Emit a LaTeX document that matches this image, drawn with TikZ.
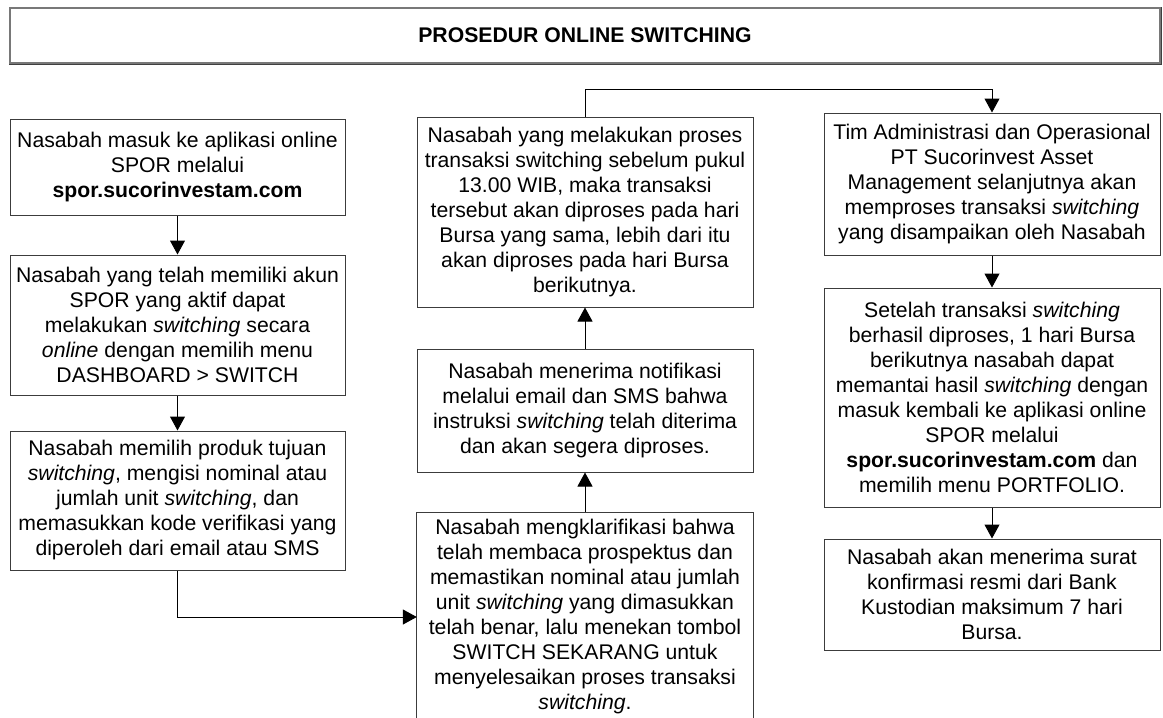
\documentclass[tikz,border=0pt]{standalone}
\usepackage{fontspec}
\setmainfont{Liberation Sans}
\usetikzlibrary{arrows.meta,calc}
\definecolor{boxgray}{RGB}{60,60,60}
\definecolor{titlegray}{RGB}{120,120,120}
\begin{document}
\begin{tikzpicture}[x=1pt,y=-1pt,
  txt/.style={align=center, font=\fontsize{21.2}{25}\selectfont, inner xsep=1pt, inner ysep=2pt},
  box/.style={txt, draw=boxgray, line width=1pt, fill=white, minimum width=336pt},
  boxline/.style={draw=boxgray, line width=1pt},
  conn/.style={draw=black, line width=1pt, -{Triangle[length=14pt,width=15pt]}},
]
\useasboundingbox (0,0) rectangle (1163,718);
\fill[white] (0,0) rectangle (1163,718);

\node[txt, draw=titlegray, line width=1.3pt, minimum width=1150pt, minimum height=55pt, font=\fontsize{21.2}{25}\selectfont\bfseries] (title) at (585,35.5) {PROSEDUR ONLINE SWITCHING};
\draw[black!75, line width=1pt] ([xshift=1pt]title.north east) -- ([xshift=1pt,yshift=-1pt]title.south east) -- ([yshift=-1pt]title.south west);

% left column
\node[box, minimum width=335pt, minimum height=96pt] (b1) at (177.5,167)
  {Nasabah masuk ke aplikasi online\\ SPOR melalui\\ \textbf{spor.sucorinvestam.com}};
\node[box, minimum width=335pt, minimum height=140pt] (b2) at (177.5,325)
  {Nasabah yang telah memiliki akun\\ SPOR yang aktif dapat\\ melakukan \textit{switching} secara\\ \textit{online} dengan memilih menu\\ DASHBOARD > SWITCH};
\node[box, minimum width=335pt, minimum height=139pt] (b3) at (177.5,500.5)
  {Nasabah memilih produk tujuan\\ \textit{switching}, mengisi nominal atau\\ jumlah unit \textit{switching}, dan\\ memasukkan kode verifikasi yang\\ diperoleh dari email atau SMS};

% middle column
\node[box, minimum height=190pt] (b4) at (585,212)
  {Nasabah yang melakukan proses\\ transaksi switching sebelum pukul\\ 13.00 WIB, maka transaksi\\ tersebut akan diproses pada hari\\ Bursa yang sama, lebih dari itu\\ akan diproses pada hari Bursa\\ berikutnya.};
\node[box, minimum height=123pt] (b5) at (585,410.5)
  {Nasabah menerima notifikasi\\ melalui email dan SMS bahwa\\ instruksi \textit{switching} telah diterima\\ dan akan segera diproses.};
\node[txt, minimum width=336pt, inner ysep=7pt, anchor=north] (b6) at (585,512)
  {Nasabah mengklarifikasi bahwa\\ telah membaca prospektus dan\\ memastikan nominal atau jumlah\\ unit \textit{switching} yang dimasukkan\\ telah benar, lalu menekan tombol\\ SWITCH SEKARANG untuk\\ menyelesaikan proses transaksi\\ \textit{switching}.};
\coordinate (pagebottom) at (0,718);
\draw[boxline] (b6.north west |- pagebottom) -- (b6.north west) -- (b6.north east) -- (b6.north east |- pagebottom);

% right column
\node[box, minimum height=142pt] (b7) at (992,184)
  {Tim Administrasi dan Operasional\\ PT Sucorinvest Asset\\ Management selanjutnya akan\\ memproses transaksi \textit{switching}\\ yang disampaikan oleh Nasabah};
\node[box, minimum height=219pt] (b8) at (992,397.5)
  {Setelah transaksi \textit{switching}\\ berhasil diproses, 1 hari Bursa\\ berikutnya nasabah dapat\\ memantai hasil \textit{switching} dengan\\ masuk kembali ke aplikasi online\\ SPOR melalui\\ \textbf{spor.sucorinvestam.com} dan\\ memilih menu PORTFOLIO.};
\node[box, minimum height=111pt] (b9) at (992,594.5)
  {Nasabah akan menerima surat\\ konfirmasi resmi dari Bank\\ Kustodian maksimum 7 hari\\ Bursa.};

% connectors
\coordinate (y617) at (0,617);
\coordinate (y89) at (0,89);
\draw[conn] (b1.south) -- (b2.north);
\draw[conn] (b2.south) -- (b3.north);
\draw[conn] (b3.south) |- (b6.west |- y617);
\draw[conn] (b6.north) -- (b5.south);
\draw[conn] (b5.north) -- (b4.south);
\draw[conn] (b4.north) -- (b4.north |- y89) -| (b7.north);
\draw[conn] (b7.south) -- (b8.north);
\draw[conn] (b8.south) -- (b9.north);
\end{tikzpicture}
\end{document}
